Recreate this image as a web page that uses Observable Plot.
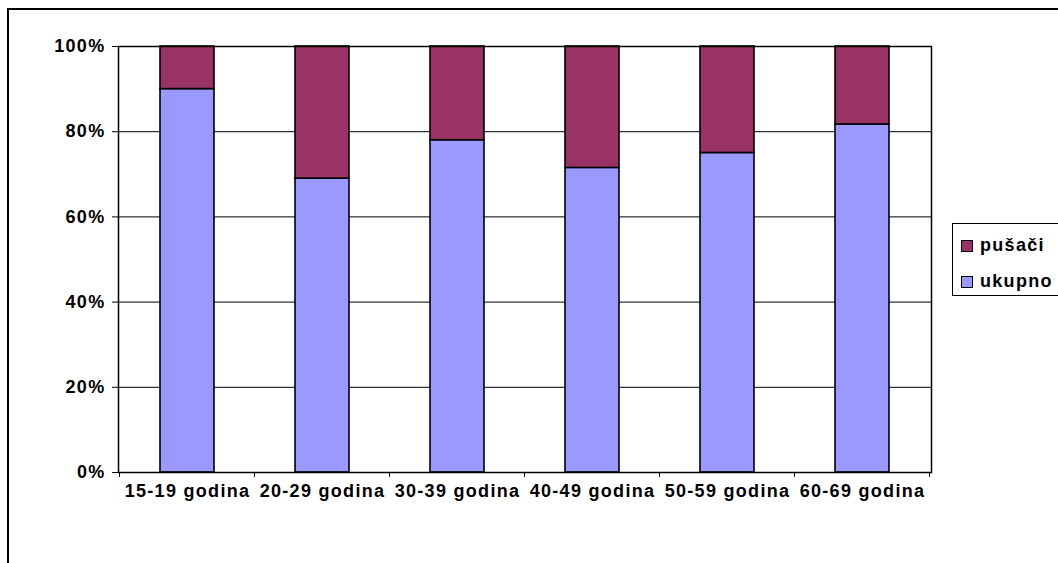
<!DOCTYPE html>
<html>
<head>
<meta charset="utf-8">
<script src="https://cdn.jsdelivr.net/npm/d3@7"></script>
<script src="https://cdn.jsdelivr.net/npm/@observablehq/plot@0.6"></script>
<style>
  html, body { margin: 0; padding: 0; background: #fff; }
  #wrap { position: relative; width: 1058px; height: 563px; overflow: hidden; background: #fff;
          font-family: "Liberation Sans", Arial, sans-serif; font-weight: bold; }
  #outer { position: absolute; left: 7px; top: 8px; width: 1200px; height: 700px; border: 2px solid #000; box-sizing: border-box; }
  #chart { position: absolute; left: 0; top: 0; }
  #legend { position: absolute; left: 952px; top: 223px; width: 130px; height: 73px;
            border: 1px solid #000; box-sizing: border-box; background: #fff; }
  .item { position: absolute; left: 8px; display: flex; align-items: center; font-size: 18px; letter-spacing: 1.3px; }
  .sw { width: 10px; height: 10px; border: 1px solid #000; margin-right: 7px; }
</style>
</head>
<body>
<div id="wrap">
  <div id="outer"></div>
  <div id="chart"></div>
  <div id="legend"></div>
</div>
<script>
// Age groups and the share (%) of each series within the group
const ageGroups = ["15-19 godina", "20-29 godina", "30-39 godina", "40-49 godina", "50-59 godina", "60-69 godina"];
const ukupno = [90, 69, 78, 71.5, 75, 81.7];
const pusaci = [10, 31, 22, 28.5, 25, 18.3];
const seriesNames = ["ukupno", "pušači"];
const seriesColors = ["#9999FF", "#993366"];
const yTicks = [0, 20, 40, 60, 80, 100];
const gridTicks = [20, 40, 60, 80];

// long table: ukupno first so it sits at the bottom of each stack
const rows = [];
ageGroups.forEach((g, i) => {
  rows.push({group: g, series: seriesNames[0], value: ukupno[i]});
  rows.push({group: g, series: seriesNames[1], value: pusaci[i]});
});

const W = 1058, H = 563;
const mL = 118, mR = 127, mT = 46, mB = 91;
const font = {fontFamily: "Liberation Sans, Arial, sans-serif", fontSize: 18, fontWeight: "bold"};

const chart = Plot.plot({
  width: W,
  height: H,
  marginLeft: mL,
  marginRight: mR,
  marginTop: mT,
  marginBottom: mB,
  style: {background: "transparent", fontFamily: "Liberation Sans, Arial, sans-serif", fontSize: "18px", fontWeight: "bold", letterSpacing: "1.3px", color: "#000"},
  x: {domain: ageGroups, paddingInner: 0.6, paddingOuter: 0.3, label: null},
  y: {domain: [0, 100], label: null},
  color: {domain: seriesNames, range: seriesColors},
  marks: [
    Plot.gridY(gridTicks, {stroke: "#000", strokeOpacity: 1, strokeWidth: 1}),
    Plot.barY(rows, {x: "group", y: "value", fill: "series", z: "series", stroke: "#000", strokeWidth: 1.6}),
    Plot.frame({stroke: "#000", strokeWidth: 1.5}),
    Plot.axisY({ticks: yTicks, tickSize: 6, tickPadding: 7, tickFormat: d => d + "%", ...font}),
    Plot.axisX({tickSize: 0, tickPadding: 12, ...font})
  ]
});
document.getElementById("chart").appendChild(chart);

// small boundary ticks below the x axis, placed from the x scale
const xs = chart.scale("x");
const ys = chart.scale("y");
const y0 = ys.apply(0);
const edges = ageGroups.map(g => xs.apply(g) - (xs.step - xs.bandwidth) / 2);
edges.push(edges[edges.length - 1] + xs.step);
d3.select(chart).selectAll(".xtick").data(edges).join("line")
  .attr("class", "xtick")
  .attr("x1", d => d).attr("x2", d => d)
  .attr("y1", y0).attr("y2", y0 + 5)
  .attr("stroke", "#000").attr("stroke-width", 1);

// legend
const legend = document.getElementById("legend");
[[seriesNames[1], seriesColors[1], 11], [seriesNames[0], seriesColors[0], 47]].forEach(([name, color, top]) => {
  const item = document.createElement("div");
  item.className = "item";
  item.style.top = top + "px";
  item.innerHTML = `<span class="sw" style="background:${color}"></span><span>${name}</span>`;
  legend.appendChild(item);
});
</script>
</body>
</html>
